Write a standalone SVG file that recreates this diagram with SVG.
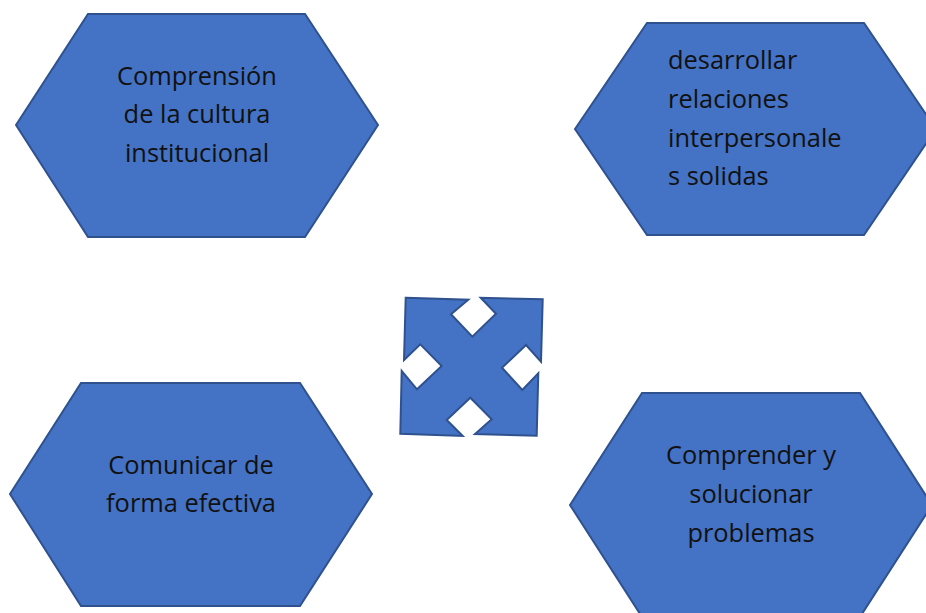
<svg xmlns="http://www.w3.org/2000/svg" width="926" height="613" viewBox="0 0 926 613">
<style>
.hex{fill:#4472c4;stroke:#2f528f;stroke-width:2}
text{font-family:"Open Sans","Noto Sans","Liberation Sans",sans-serif;font-size:25.4px;fill:#111}
.m{text-anchor:middle}
</style>
<rect width="926" height="613" fill="#fff"/>
<g id="node-cultura"><polygon class="hex" points="16,125 88,14 305,14 378,125 305,237 88,237"/>
<text class="m" x="197" y="85">Comprensión</text><text class="m" x="197" y="123">de la cultura</text><text class="m" x="197" y="162">institucional</text></g>
<g id="node-relaciones"><polygon class="hex" points="575,129 647,23 864,23 936,129 864,235 647,235"/>
<text x="668" y="69">desarrollar</text><text x="668" y="108">relaciones</text><text x="668" y="147">interpersonale</text><text x="668" y="185">s solidas</text></g>
<g id="node-comunicar"><polygon class="hex" points="10,494 81,383 300,383 372,494 300,606 81,606"/>
<text class="m" x="191" y="474">Comunicar de</text><text class="m" x="191" y="512">forma efectiva</text></g>
<g id="node-problemas"><polygon class="hex" points="570,505 642,393 860,393 932,505 860,617 642,617"/>
<text class="m" x="751" y="464">Comprender y</text><text class="m" x="751" y="503">solucionar</text><text class="m" x="751" y="542">problemas</text></g>
<g id="node-centro"><polygon class="hex" points="405.7,297.7 468.3,299.7 451,314.3 472.3,336.7 496,313.7 480.7,297.7 542.7,299.3 541,361.7 526,345 502,367.7 522.3,390 538.3,373.3 536.7,435.7 475,434 491.7,419.3 470.3,397.7 446.7,420 462.7,436 400.3,433.7 401.7,371 417,389.3 441.7,366 420.3,344.3 404,360"/></g>
<g id="connectors"></g>
</svg>
